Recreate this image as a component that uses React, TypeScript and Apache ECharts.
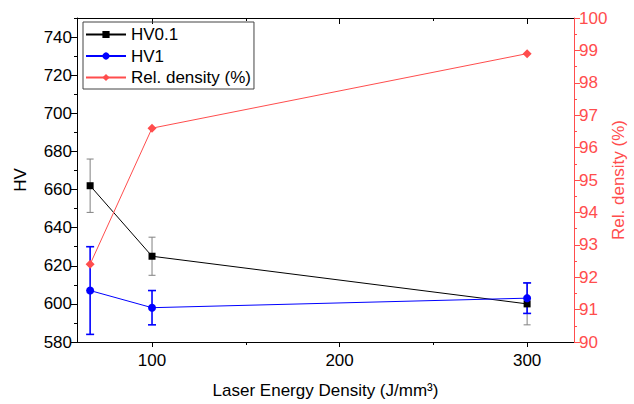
import React, { useEffect, useRef } from "react";
import * as echarts from "echarts";

const xValues = [67, 100, 300];
const hv01 = [662, 625, 600];
const hv01Err = [14, 10, 11];
const hv1 = [607, 598, 603];
const hv1Err = [23, 9, 8];
const relDensity = [92.4, 96.6, 98.9];

const xMajorTicks = [100, 200, 300];
const xMinorTicks = [150, 250];
const yMajorTicks = [580, 600, 620, 640, 660, 680, 700, 720, 740];
const yMinorTicks = [590, 610, 630, 650, 670, 690, 710, 730, 750];

const FONT = "Arial, 'Liberation Sans', sans-serif";
const RED = "#ff4d4d";
const FS = 17;

function errData(vals: number[], errs: number[]) {
  return xValues.map((x, i) => [x, vals[i] - errs[i], vals[i] + errs[i]]);
}

function errSeries(data: number[][], color: string, width: number, cap: number) {
  return {
    type: "custom",
    xAxisIndex: 0,
    yAxisIndex: 0,
    z: 1,
    silent: true,
    encode: { x: 0, y: [1, 2] },
    data,
    renderItem: (params: any, api: any) => {
      const x = api.value(0);
      const lo = api.coord([x, api.value(1)]);
      const hi = api.coord([x, api.value(2)]);
      const style = { stroke: color, lineWidth: width };
      return {
        type: "group",
        children: [
          { type: "line", shape: { x1: hi[0], y1: hi[1], x2: lo[0], y2: lo[1] }, style },
          { type: "line", shape: { x1: hi[0] - cap, y1: hi[1], x2: hi[0] + cap, y2: hi[1] }, style },
          { type: "line", shape: { x1: lo[0] - cap, y1: lo[1], x2: lo[0] + cap, y2: lo[1] }, style },
        ],
      };
    },
  };
}

export default function App() {
  const ref = useRef<HTMLDivElement>(null);
  useEffect(() => {
    if (!ref.current) return;
    const chart = echarts.init(ref.current, null, { renderer: "svg" });
    const tickOnly = (pos: string, values: number[], len: number, inside: boolean, color = "#000") => ({
      type: "value",
      position: pos,
      min: 60,
      max: 325,
      axisLine: { show: false },
      axisLabel: { show: false },
      splitLine: { show: false },
      axisTick: { show: true, inside, length: len, customValues: values, lineStyle: { color } },
    });
    chart.setOption({
      animation: false,
      textStyle: { fontFamily: FONT },
      grid: { left: 77, right: 60, top: 18, bottom: 62, containLabel: false, outerBoundsMode: "none" },
      legend: {
        left: 83,
        top: 22,
        orient: "vertical",
        data: ["HV0.1", "HV1", "Rel. density (%)"],
        borderColor: "#444",
        borderWidth: 1,
        padding: [4, 3, 3, 2],
        itemWidth: 40,
        itemHeight: 9,
        itemGap: 4.5,
        textStyle: { fontSize: FS, color: "#000", fontFamily: FONT, lineHeight: 17 },
      },
      xAxis: [
        {
          type: "value",
          position: "bottom",
          min: 60,
          max: 325,
          name: "Laser Energy Density (J/mm³)",
          nameLocation: "middle",
          nameGap: 40,
          nameTextStyle: { fontSize: FS, color: "#000", fontFamily: FONT },
          axisLine: { show: true, lineStyle: { color: "#000", width: 1 } },
          axisTick: { show: true, length: 5, customValues: xMajorTicks, lineStyle: { color: "#000" } },
          axisLabel: { customValues: xMajorTicks, fontSize: FS, color: "#000", margin: 10, fontFamily: FONT },
          splitLine: { show: false },
        },
        tickOnly("bottom", xMinorTicks, 3, false),
        {
          type: "value",
          position: "top",
          min: 60,
          max: 325,
          axisLine: { show: true, lineStyle: { color: "#000", width: 1 } },
          axisTick: { show: true, inside: true, length: 6, customValues: xMajorTicks, lineStyle: { color: "#000" } },
          axisLabel: { show: false },
          splitLine: { show: false },
        },
        tickOnly("top", xMinorTicks, 3, true),
      ],
      yAxis: [
        {
          type: "value",
          position: "left",
          min: 580,
          max: 750,
          name: "HV",
          nameLocation: "middle",
          nameGap: 48,
          nameTextStyle: { fontSize: FS, color: "#000", fontFamily: FONT },
          axisLine: { show: true, lineStyle: { color: "#000", width: 1 } },
          axisTick: { show: true, length: 6, customValues: yMajorTicks, lineStyle: { color: "#000" } },
          axisLabel: { customValues: yMajorTicks, fontSize: FS, color: "#000", margin: 5, fontFamily: FONT },
          splitLine: { show: false },
        },
        {
          type: "value",
          position: "right",
          min: 90,
          max: 100,
          interval: 1,
          name: "Rel. density (%)",
          nameLocation: "middle",
          nameGap: 36,
          nameRotate: 90,
          nameMoveOverlap: false,
          nameTextStyle: { fontSize: FS, color: RED, fontFamily: FONT, lineHeight: 17 },
          axisLine: { show: true, lineStyle: { color: RED, width: 1 } },
          axisTick: { show: true, length: 6, lineStyle: { color: RED } },
          minorTick: { show: true, splitNumber: 2, length: 3, lineStyle: { color: RED } },
          axisLabel: { fontSize: FS, color: RED, margin: 5, fontFamily: FONT },
          splitLine: { show: false },
          minorSplitLine: { show: false },
        },
        {
          type: "value",
          position: "left",
          min: 580,
          max: 750,
          axisLine: { show: false },
          axisLabel: { show: false },
          splitLine: { show: false },
          axisTick: { show: true, length: 3, customValues: yMinorTicks, lineStyle: { color: "#000" } },
        },
      ],
      series: [
        errSeries(errData(hv01, hv01Err), "#808080", 1, 3.5),
        errSeries(errData(hv1, hv1Err), "#0000ff", 1.6, 4),
        {
          name: "HV0.1",
          type: "line",
          xAxisIndex: 0,
          yAxisIndex: 0,
          z: 3,
          data: xValues.map((x, i) => [x, hv01[i]]),
          symbol: "rect",
          symbolSize: 7,
          itemStyle: { color: "#000" },
          lineStyle: { color: "#000", width: 1 },
        },
        {
          name: "HV1",
          type: "line",
          xAxisIndex: 0,
          yAxisIndex: 0,
          z: 3,
          data: xValues.map((x, i) => [x, hv1[i]]),
          symbol: "circle",
          symbolSize: 8,
          itemStyle: { color: "#0000ff" },
          lineStyle: { color: "#0000ff", width: 1 },
        },
        {
          name: "Rel. density (%)",
          type: "line",
          xAxisIndex: 0,
          yAxisIndex: 1,
          z: 3,
          data: xValues.map((x, i) => [x, relDensity[i]]),
          symbol: "diamond",
          symbolSize: 9,
          itemStyle: { color: RED },
          lineStyle: { color: RED, width: 1 },
        },
      ],
    });
    return () => chart.dispose();
  }, []);
  return (
    <div
      ref={ref}
      style={{ position: "fixed", left: 0, top: 0, width: 634, height: 404, background: "#fff" }}
    />
  );
}
